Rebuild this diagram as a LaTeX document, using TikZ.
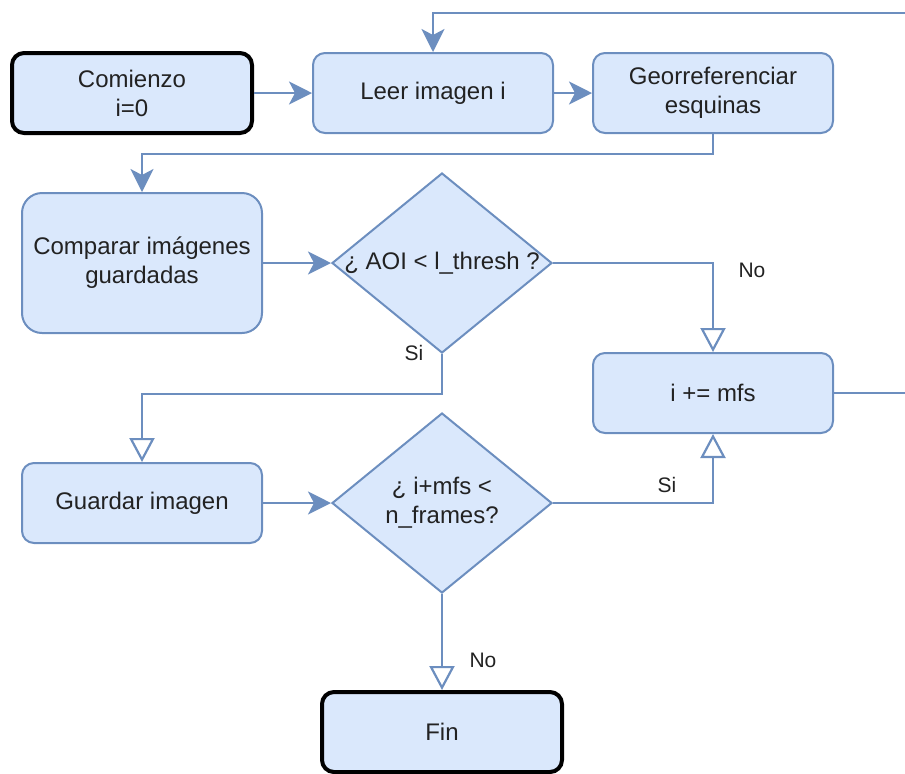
\documentclass[tikz,border=0pt]{standalone}
\usepackage{fontspec}
\setmainfont{Liberation Sans}
\usetikzlibrary{shapes.geometric,arrows.meta}
\definecolor{bfill}{HTML}{DAE8FC}
\definecolor{bline}{HTML}{6C8EBF}
\definecolor{txt}{HTML}{222222}
\begin{document}
\begin{tikzpicture}[x=0.5pt,y=-0.5pt,
 box/.style={draw=bline, fill=bfill, line width=1pt, rounded corners=6pt, minimum width=120pt, minimum height=40pt, align=center, text=txt, font=\fontsize{12}{14.5}\selectfont, inner sep=0pt},
 term/.style={box, draw=black, line width=2pt},
 dia/.style={diamond, draw=bline, fill=bfill, line width=1pt, minimum width=110pt, minimum height=90pt, inner sep=0pt},
 dtext/.style={align=center, text=txt, font=\fontsize{12}{14.5}\selectfont, inner sep=0pt},
 conn/.style={draw=bline, line width=1.1pt, -{Stealth[length=11.5pt,width=11.5pt,inset=3pt]}},
 oconn/.style={draw=bline, line width=1.1pt, -{Triangle[open,length=12pt,width=12.5pt,fill=white]}},
 plain/.style={draw=bline, line width=1.1pt},
 elab/.style={text=txt, font=\fontsize{10.5}{12}\selectfont, inner sep=0pt}
]
\useasboundingbox (0,0) rectangle (905,773);

\node[term] (c0) at (132,93) {Comienzo\\i=0};
\node[box] (leer) at (433,93) {Leer imagen i};
\node[box] (geo) at (713,93) {Georreferenciar\\esquinas};
\node[box, minimum height=70pt, rounded corners=10pt] (comp) at (142,263) {Comparar imágenes\\guardadas};
\node[dia] (d1) at (442,263) {};
\node[dtext] (d1t) at (442,263) {¿ AOI < l\_thresh ?};
\node[box] (mfs) at (713,393) {i += mfs};
\node[box] (guard) at (142,503) {Guardar imagen};
\node[dia] (d2) at (442,503) {};
\node[dtext] (d2t) at (442,503) {¿ i+mfs <\\n\_frames?};
\node[term] (fin) at (442,732) {Fin};

\coordinate (tr) at (905,13);
\coordinate (rr) at (905,393);

\draw[conn] (c0.east) -- (leer.west);
\draw[conn] (leer.east) -- (geo.west);
\draw[conn] (geo.south) -- ++(0,20) -| (comp.north);
\draw[conn] (comp.east) -- (d1.west);
\draw[oconn] (d1.east) -| (mfs.north);
\draw[oconn] (d1.south) -- ++(0,40) -| (guard.north);
\draw[conn] (guard.east) -- (d2.west);
\draw[oconn] (d2.east) -| (mfs.south);
\draw[oconn] (d2.south) -- (fin.north);
\draw[plain] (mfs.east) -- (rr);
\draw[conn] (tr) -| (leer.north);

\node[elab] (lno1) at (752,270) {No};
\node[elab] (lsi1) at (414,353) {Si};
\node[elab] (lsi2) at (667,485) {Si};
\node[elab] (lno2) at (483,660) {No};
\end{tikzpicture}
\end{document}
